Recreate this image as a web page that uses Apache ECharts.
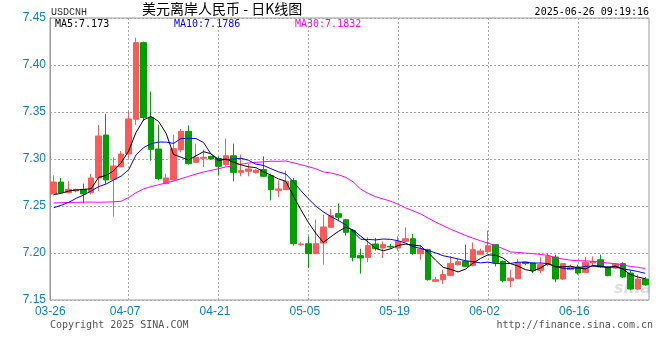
<!DOCTYPE html>
<html><head><meta charset="utf-8">
<script src="https://cdn.jsdelivr.net/npm/echarts@6/dist/echarts.min.js"></script>
<style>html,body{margin:0;padding:0;background:#fff}#c{width:660px;height:360px}</style>
</head><body><div id="c"></div>
<script>
const dates = ['03-26','03-27','03-28','03-29','03-31','04-01','04-02','04-03','04-04','04-05',
'04-07','04-08','04-09','04-10','04-11','04-12','04-14','04-15','04-16','04-17',
'04-18','04-19','04-21','04-22','04-23','04-24','04-25','04-26','04-28','04-29',
'04-30','05-01','05-02','05-03','05-05','05-06','05-07','05-08','05-09','05-10',
'05-12','05-13','05-14','05-15','05-16','05-17','05-19','05-20','05-21','05-22',
'05-23','05-24','05-26','05-27','05-28','05-29','05-30','05-31','06-02','06-03',
'06-04','06-05','06-06','06-07','06-09','06-10','06-11','06-12','06-13','06-14',
'06-16','06-17','06-18','06-19','06-20','06-21','06-23','06-24','06-25','06-26'];
const xTickLabels = ['03-26','04-07','04-21','05-05','05-19','06-02','06-16'];
const opens = [7.2628,7.2755,7.2642,7.2660,7.2677,7.2642,7.2798,7.3255,7.2784,7.2918,
7.3053,7.3422,7.4238,7.3443,7.3106,7.2738,7.2780,7.3099,7.3294,7.2965,
7.3007,7.3028,7.3004,7.2940,7.3035,7.2858,7.2869,7.2855,7.2887,7.2823,
7.2667,7.2674,7.2770,7.2089,7.2099,7.1993,7.2106,7.2273,7.2418,7.2355,
7.2238,7.1972,7.1954,7.2096,7.2053,7.2071,7.2053,7.2124,7.2152,7.1993,
7.2035,7.1699,7.1716,7.1762,7.1876,7.1911,7.1869,7.1986,7.2014,7.2089,
7.1911,7.1706,7.1727,7.1904,7.1894,7.1816,7.1876,7.1957,7.1723,7.1823,
7.1851,7.1794,7.1894,7.1929,7.1851,7.1840,7.1887,7.1787,7.1617,7.1723];
const closes = [7.2755,7.2642,7.2677,7.2677,7.2628,7.2798,7.3245,7.2777,7.2926,7.3053,
7.3426,7.4238,7.3440,7.3103,7.2791,7.2798,7.3110,7.3294,7.2950,7.3018,
7.3018,7.3000,7.2922,7.3035,7.2858,7.2876,7.2894,7.2879,7.2816,7.2674,
7.2681,7.2762,7.2099,7.2096,7.1993,7.2099,7.2277,7.2397,7.2379,7.2220,
7.1954,7.1947,7.2078,7.2046,7.2089,7.2064,7.2124,7.2152,7.1993,7.2043,
7.1716,7.1716,7.1770,7.1887,7.1908,7.1858,7.2035,7.2021,7.2078,7.1894,
7.1706,7.1734,7.1894,7.1887,7.1812,7.1876,7.1965,7.1723,7.1887,7.1851,
7.1787,7.1901,7.1911,7.1851,7.1759,7.1883,7.1745,7.1617,7.1723,7.1663];
const lows = [7.2613,7.2628,7.2635,7.2646,7.2528,7.2621,7.2660,7.2734,7.2387,7.2911,
7.3007,7.3362,7.3404,7.2982,7.2773,7.2738,7.2762,7.3071,7.2940,7.2957,
7.2915,7.2993,7.2826,7.2922,7.2762,7.2816,7.2816,7.2844,7.2809,7.2560,
7.2596,7.2674,7.2078,7.2078,7.1837,7.1993,7.1876,7.2266,7.2337,7.2184,
7.1911,7.1780,7.1901,7.2025,7.1947,7.2046,7.2025,7.2117,7.1982,7.1929,
7.1706,7.1691,7.1670,7.1752,7.1869,7.1848,7.1858,7.1979,7.1993,7.1858,
7.1688,7.1635,7.1723,7.1869,7.1787,7.1787,7.1858,7.1688,7.1716,7.1816,
7.1770,7.1787,7.1858,7.1840,7.1752,7.1830,7.1734,7.1603,7.1610,7.1652];
const highs = [7.2826,7.2798,7.2766,7.2684,7.2738,7.2840,7.3362,7.3479,7.3018,7.3085,
7.3504,7.4291,7.4248,7.3716,7.3365,7.2844,7.3259,7.3319,7.3358,7.3163,
7.3099,7.3035,7.3028,7.3216,7.3163,7.3046,7.2947,7.2894,7.3028,7.2844,
7.2773,7.2876,7.2798,7.2113,7.2177,7.2355,7.2408,7.2468,7.2525,7.2365,
7.2248,7.2046,7.2167,7.2160,7.2124,7.2096,7.2177,7.2273,7.2202,7.2082,
7.2046,7.1745,7.1823,7.1965,7.1936,7.2089,7.2113,7.2046,7.2238,7.2096,
7.1922,7.1823,7.1936,7.1908,7.1901,7.1954,7.2000,7.1982,7.1894,7.1876,
7.1876,7.1957,7.1965,7.1982,7.1858,7.1894,7.1901,7.1816,7.1770,7.1745];
// MA values at the start of the window (earlier history not shown)
const ma5Head = [7.2621,7.2635,7.2660,7.2670];
const ma10Head = [7.2482,7.2507,7.2539,7.2582,7.2617,7.2660,7.2706,7.2734,7.2777];
const ma30Head = [7.2532,7.2535,7.2538,7.2539,7.2541,7.2542,7.2540,7.2542,7.2545,7.2550,
7.2590,7.2642,7.2682,7.2706,7.2726,7.2745,7.2765,7.2790,7.2815,7.2840,
7.2862,7.2878,7.2897,7.2915,7.2930,7.2945,7.2957,7.2964,7.2970];
const yTicks = {min: 7.15, max: 7.45, step: 0.05};

function movingAvg(n, head) {
  return closes.map((c, i) => {
    if (i < head.length) return head[i];
    let s = 0;
    for (let k = i - n + 1; k <= i; k++) s += closes[k];
    return +(s / n).toFixed(4);
  });
}
const ma5 = movingAvg(5, ma5Head);
const ma10 = movingAvg(10, ma10Head);
const ma30 = movingAvg(30, ma30Head);
const ohlc = dates.map((d, i) => [opens[i], closes[i], lows[i], highs[i]]);
const labelIdx = new Set(xTickLabels.map(l => dates.indexOf(l)));
const labelFn = (i) => labelIdx.has(i);

const MONO = '"DejaVu Sans Mono", monospace';
const GRID = {color: '#aaa', type: [2, 2], width: 1};
const chart = echarts.init(document.getElementById('c'), null, {renderer: 'canvas'});
chart.setOption({
  animation: false,
  backgroundColor: '#fff',
  grid: {left: 50, right: 11, top: 18, height: 282, show: true, borderColor: '#999', borderWidth: 1, backgroundColor: 'transparent'},
  xAxis: [{
    type: 'category', data: dates, boundaryGap: true,
    axisLine: {show: false}, axisTick: {show: false},
    axisLabel: {interval: labelFn, color: '#0a7fd0', font: '10px ' + MONO, margin: 6, padding: [0, 7, 0, 0]},
    splitLine: {show: false}
  }],
  yAxis: [{
    type: 'value', min: yTicks.min, max: yTicks.max, interval: yTicks.step, scale: true,
    axisLine: {show: true, onZero: false, lineStyle: {color: '#999', width: 1}}, axisTick: {show: false},
    axisLabel: {color: '#0a7fd0', font: '10px ' + MONO, margin: 4, padding: [0, 0, 5, 0], formatter: v => v.toFixed(2)},
    splitLine: {show: true, lineStyle: GRID}
  }],
  series: [{
    type: 'candlestick', data: ohlc, barWidth: 6, z: 3,
    itemStyle: {color: '#ff5959', color0: '#00a000', borderColor: '#ff5959', borderColor0: '#00a000', borderWidth: 1},
    markLine: {
      silent: true, symbol: ['none', 'none'], label: {show: false}, lineStyle: GRID, z: 1,
      emphasis: {disabled: true},
      data: xTickLabels.slice(1).map(d => ({xAxis: d}))
    }
  }, {
    type: 'line', data: ma30, showSymbol: false, lineStyle: {color: '#ff00ff', width: 1}, silent: true, z: 4
  }, {
    type: 'line', data: ma10, showSymbol: false, lineStyle: {color: '#0000ff', width: 1}, silent: true, z: 4
  }, {
    type: 'line', data: ma5, showSymbol: false, lineStyle: {color: '#000000', width: 1}, silent: true, z: 4
  }],
  graphic: [
    {type: 'text', x: 51, y: 12, style: {text: 'USDCNH', font: '10px "Liberation Mono", monospace', fill: '#333', align: 'left', verticalAlign: 'middle'}},
    {type: 'text', x: 142, y: 9, style: {text: '美元离岸人民币 - 日K线图', font: '14px "Noto Sans CJK SC"', fill: '#000', align: 'left', verticalAlign: 'middle'}},
    {type: 'text', x: 649, y: 12, style: {text: '2025-06-26 09:19:16', font: '10px ' + MONO, fill: '#000', align: 'right', verticalAlign: 'middle'}},
    {type: 'text', x: 55, y: 24, style: {text: 'MA5:7.173', font: '10px ' + MONO, fill: '#000', align: 'left', verticalAlign: 'middle'}},
    {type: 'text', x: 174, y: 24, style: {text: 'MA10:7.1786', font: '10px ' + MONO, fill: '#0000ff', align: 'left', verticalAlign: 'middle'}},
    {type: 'text', x: 295, y: 24, style: {text: 'MA30:7.1832', font: '10px ' + MONO, fill: '#ff00ff', align: 'left', verticalAlign: 'middle'}},
    {type: 'text', x: 50, y: 325, style: {text: 'Copyright 2025 SINA.COM', font: '10px ' + MONO, fill: '#555', align: 'left', verticalAlign: 'middle'}},
    {type: 'text', x: 653, y: 325, style: {text: 'http://finance.sina.com.cn', font: '10px ' + MONO, fill: '#555', align: 'right', verticalAlign: 'middle'}},
    {type: 'text', x: 614, y: 289, style: {text: 'sina', font: 'italic bold 16px "DejaVu Sans"', fill: 'rgba(160,160,160,0.35)', align: 'left', verticalAlign: 'middle'}}
  ]
});
</script></body></html>
